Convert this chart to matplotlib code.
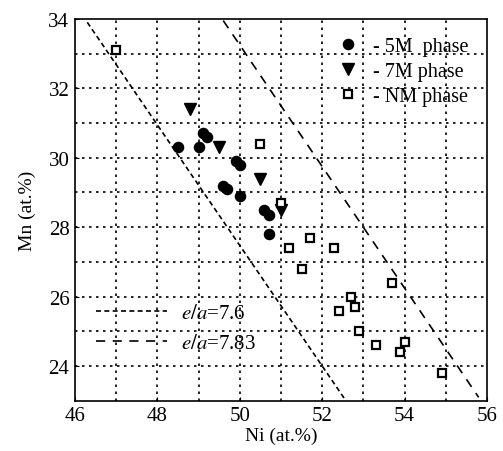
import matplotlib
matplotlib.use("Agg")
import matplotlib.pyplot as plt
from matplotlib.lines import Line2D

plt.rcParams['font.family'] = ['Liberation Serif', 'DejaVu Serif']
plt.rcParams['mathtext.fontset'] = 'stix'

# 5M phase (filled circles)
ni_5m = [48.5, 49.0, 49.1, 49.2, 49.9, 50.0, 49.6, 49.7, 50.0, 50.6, 50.7, 50.7]
mn_5m = [30.3, 30.3, 30.7, 30.6, 29.9, 29.8, 29.2, 29.1, 28.9, 28.5, 28.35, 27.8]

# 7M phase (down triangles)
ni_7m = [48.8, 49.5, 50.5, 51.0]
mn_7m = [31.4, 30.3, 29.4, 28.5]

# NM phase (open squares)
ni_nm = [47.0, 50.5, 51.0, 51.2, 51.7, 51.5, 52.3, 53.7, 52.7, 52.4, 52.8,
         52.9, 53.3, 54.0, 53.9, 54.9]
mn_nm = [33.1, 30.4, 28.7, 27.4, 27.7, 26.8, 27.4, 26.4, 26.0, 25.6, 25.7,
         25.0, 24.6, 24.7, 24.4, 23.8]

# e/a iso-lines (end points)
ea76_ni = [46.3, 52.55]
ea76_mn = [33.9, 23.05]
ea783_ni = [49.6, 55.8]
ea783_mn = [33.95, 23.1]

xticks = [46, 48, 50, 52, 54, 56]
yticks = [24, 26, 28, 30, 32, 34]

fig = plt.figure(figsize=(5.03, 4.52), dpi=100)
ax = fig.add_axes([0.149, 0.111, 0.819, 0.845])

# dotted grid every 1 at.%
grid_style = dict(color='black', linestyle=(0, (1.5, 2.7)), linewidth=1.2, zorder=1)
for x in range(47, 56):
    ax.axvline(x, **grid_style)
for y in range(24, 34):
    ax.axhline(y, **grid_style)

l1, = ax.plot(ea76_ni, ea76_mn, color='black', linestyle=(0, (3, 2)), linewidth=1.2, zorder=2)
l2, = ax.plot(ea783_ni, ea783_mn, color='black', linestyle=(0, (5.5, 4.5)), linewidth=1.2, zorder=2)

circ = dict(marker='o', color='black', markersize=7.3, linestyle='none')
tri = dict(marker='v', color='black', markersize=8.8, linestyle='none')
sq = dict(marker='s', markerfacecolor='white', markeredgecolor='black',
          markeredgewidth=1.6, markersize=5.6, linestyle='none')

ax.plot(ni_5m, mn_5m, zorder=3, **circ)
ax.plot(ni_7m, mn_7m, zorder=3, **tri)
ax.plot(ni_nm, mn_nm, zorder=3, **sq)

ax.set_xlim(46, 56)
ax.set_ylim(23, 34)
ax.set_xticks(xticks)
ax.set_yticks(yticks)
ax.tick_params(direction='in', length=3, labelsize=15, pad=4)
ax.set_xlabel("Ni (at.%)", fontsize=14, labelpad=1)
ax.set_ylabel("Mn (at.%)", fontsize=14, labelpad=9)
for spine in ax.spines.values():
    spine.set_linewidth(1.2)

# phase legend
phase_handles = [Line2D([], [], **circ), Line2D([], [], **tri), Line2D([], [], **sq)]
leg1 = ax.legend(phase_handles, ["- 5M  phase", "- 7M phase", "- NM phase"],
                 loc='upper left', bbox_to_anchor=(0.603, 0.99), frameon=False,
                 fontsize=14.5, handlelength=1.0, handletextpad=0.75,
                 labelspacing=0.3, borderpad=0.2)
ax.add_artist(leg1)

# e/a legend
ax.legend([l1, l2], [r"$e/a$=7.6", r"$e/a$=7.83"], loc='upper left',
          bbox_to_anchor=(0.015, 0.292), frameon=False, fontsize=15,
          handlelength=3.4, handletextpad=0.7, labelspacing=0.5, borderpad=0.2)

fig.savefig("out.png", dpi=100)
